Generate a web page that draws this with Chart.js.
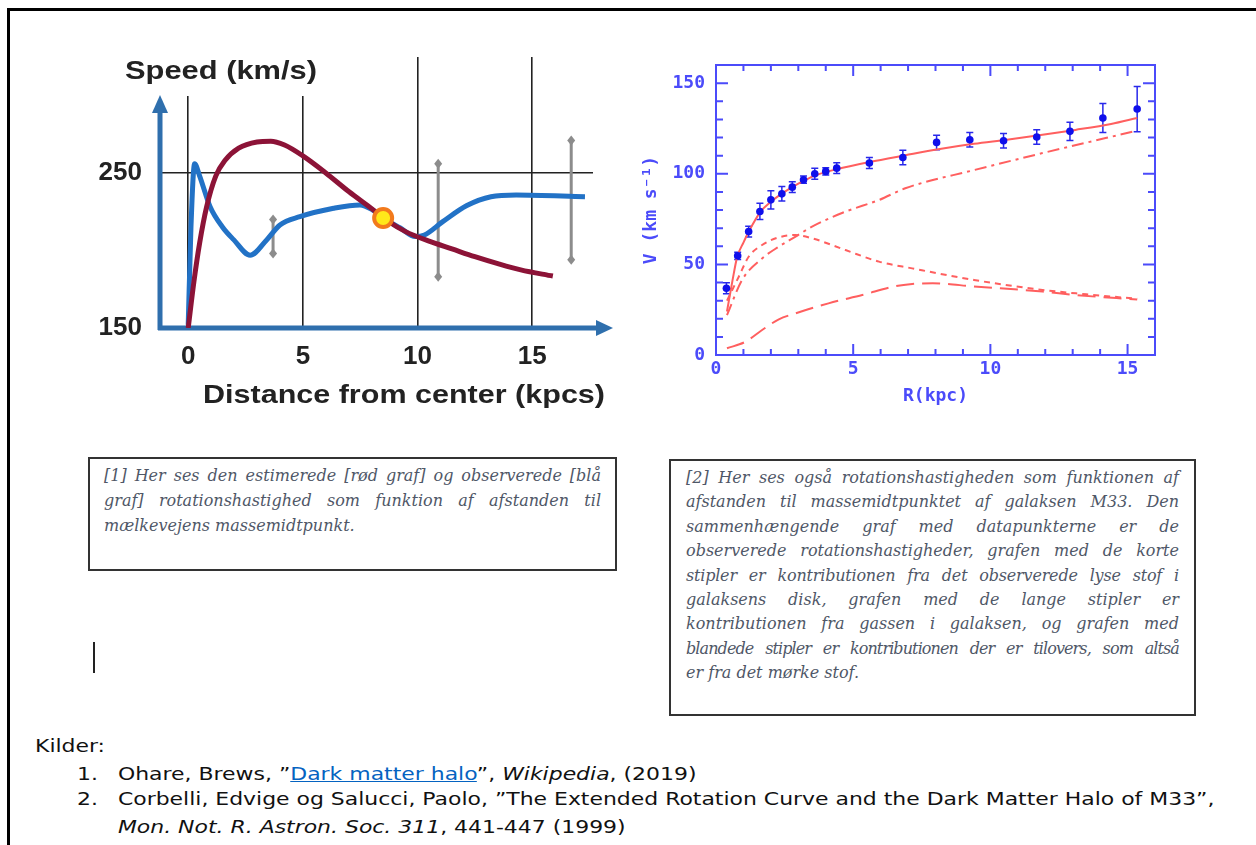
<!DOCTYPE html>
<html>
<head>
<meta charset="utf-8">
<script src="https://cdn.jsdelivr.net/npm/chart.js@4.4.0/dist/chart.umd.min.js"></script>
<style>
    html, body { margin: 0; padding: 0; background: #fff; }
    body { width: 1256px; height: 845px; position: relative; overflow: hidden; }
    #frame-top { position: absolute; left: 7px; top: 8px; width: 1249px; height: 3px; background: #000; }
    #frame-left { position: absolute; left: 7px; top: 8px; width: 3px; height: 837px; background: #000; }
    #chart1 { position: absolute; left: 80px; top: 40px; width: 545px; height: 380px; }
    #chart2 { position: absolute; left: 640px; top: 50px; width: 540px; height: 370px; }
    .caption {
        position: absolute; box-sizing: border-box; border: 2px solid #333;
        font-family: "DejaVu Serif", serif; font-style: italic; font-size: 16px;
        color: #4f5767;
    }
    #cap1 { left: 88px; top: 457px; width: 529px; height: 114px; padding: 4px 14px 0 14px; line-height: 25px; }
    #cap2 { left: 669px; top: 459px; width: 527px; height: 257px; padding: 5px 15px 0 15px; line-height: 24.4px; }
    .caption .ln { text-align: justify; text-align-last: justify; }
    .caption .ln.last { text-align-last: left; }
    #cursor { position: absolute; left: 93px; top: 642px; width: 2px; height: 31px; background: #222; }
    #sources {
        position: absolute; left: 35px; top: 733px; width: 960px; height: 110px;
        font-family: "DejaVu Sans", sans-serif; font-size: 17px; color: #111;
        transform: scaleX(1.29); transform-origin: 0 0;
    }
    #sources .row { position: absolute; left: 0; white-space: nowrap; }
    #sources .num { position: absolute; left: 32.6px; }
    #sources .txt { position: absolute; left: 64.3px; }
    #sources a { color: #0563c1; text-decoration: underline; }
</style>
</head>
<body>
<div id="frame-top"></div>
<div id="frame-left"></div>

<canvas id="chart1" width="545" height="380"></canvas>
<canvas id="chart2" width="540" height="370"></canvas>

<div class="caption" id="cap1">
    <div class="ln">[1] Her ses den estimerede [rød graf] og observerede [blå</div>
    <div class="ln">graf] rotationshastighed som funktion af afstanden til</div>
    <div class="ln last">mælkevejens massemidtpunkt.</div>
</div>

<div class="caption" id="cap2">
    <div class="ln">[2] Her ses også rotationshastigheden som funktionen af</div>
    <div class="ln">afstanden til massemidtpunktet af galaksen M33. Den</div>
    <div class="ln">sammenhængende graf med datapunkterne er de</div>
    <div class="ln">observerede rotationshastigheder, grafen med de korte</div>
    <div class="ln" style="letter-spacing:-0.2px">stipler er kontributionen fra det observerede lyse stof i</div>
    <div class="ln">galaksens disk, grafen med de lange stipler er</div>
    <div class="ln">kontributionen fra gassen i galaksen, og grafen med</div>
    <div class="ln" style="letter-spacing:-0.9px">blandede stipler er kontributionen der er tilovers, som altså</div>
    <div class="ln last">er fra det mørke stof.</div>
</div>

<div id="cursor"></div>

<div id="sources">
    <div class="row" style="top:3px">Kilder:</div>
    <div class="row" style="top:31px"><span class="num">1.</span><span class="txt">Ohare, Brews, ”<a href="#">Dark matter halo</a>”, <i>Wikipedia</i>, (2019)</span></div>
    <div class="row" style="top:56px"><span class="num">2.</span><span class="txt">Corbelli, Edvige og Salucci, Paolo, ”The Extended Rotation Curve and the Dark Matter Halo of M33”,</span></div>
    <div class="row" style="top:84px"><span class="txt"><i>Mon. Not. R. Astron. Soc. 311</i>, 441-447 (1999)</span></div>
</div>

<script>
// ---- chart 1: Milky Way, estimated vs observed (kpc, km/s)
var distTicks = [0, 5, 10, 15];
var speedTicks = [150, 250];
var observedR = [0, 0.12, 0.28, 0.5, 0.96, 1.5, 1.98, 2.7, 3.43, 4.0, 4.87, 6.34, 7.49, 8.0, 8.5, 9.25, 9.9, 10.3, 11.1, 12.15, 13.2, 14.3, 17.3];
var observedV = [152, 215, 256, 248, 228, 215, 207, 197, 207, 216.5, 221.8, 227.2, 229.4, 226.5, 221, 214.5, 209, 210, 218.6, 229, 234.7, 235.8, 234.7];
var estimatedR = [0, 0.25, 0.5, 0.8, 1.2, 1.6, 2.2, 3.0, 3.6, 4.2, 5.0, 6.0, 7.0, 8.0, 8.7, 9.5, 10.5, 11.5, 12.5, 13.5, 14.5, 15.9];
var estimatedV = [150, 180, 205, 228, 248, 258, 266, 270, 270.5, 268, 261, 250, 238, 227, 219, 212, 206, 201, 196, 191.5, 187.5, 183.5];
var sunR = [8.5];
var sunV = [221];
var rangeR = [3.7, 10.9, 16.7];
var rangeLow = [198, 183, 194];
var rangeHigh = [220, 256, 271];

// ---- chart 2: M33 (Corbelli & Salucci)
var rTicks = [0, 5, 10, 15];
var vTicks = [0, 50, 100, 150];
var rMinor = [1, 2, 3, 4, 6, 7, 8, 9, 11, 12, 13, 14];
var vMinor = [10, 20, 30, 40, 60, 70, 80, 90, 110, 120, 130, 140];
var m33R = [0.38, 0.79, 1.19, 1.6, 2.0, 2.4, 2.78, 3.19, 3.6, 4.0, 4.4, 5.59, 6.81, 8.04, 9.25, 10.48, 11.69, 12.9, 14.1, 15.35];
var m33V = [36.8, 54.7, 68.1, 79.2, 85.6, 88.9, 92.6, 96.7, 100, 101.3, 103.1, 105.9, 109, 117.3, 118.8, 118.2, 120.3, 123.4, 130.8, 135.7];
var m33Err = [3, 2, 3, 4.5, 5, 4, 3, 2, 3, 2, 3, 3, 4, 4, 4, 4, 4, 5, 8, 12.5];
var fitR = [0.4, 0.6, 0.77, 1.0, 1.19, 1.62, 2.0, 2.4, 3.0, 3.6, 4.4, 5.6, 6.9, 8.1, 9.4, 10.6, 11.9, 13.1, 14.4, 15.35];
var fitV = [24, 41, 54, 62, 68, 79, 84.5, 89, 94.5, 99, 102.5, 106.5, 110.2, 113.5, 116.5, 118.8, 121.5, 124.2, 127.5, 130.8];
var diskR = [0.4, 0.83, 1.19, 1.68, 2.29, 2.9, 3.5, 4.72, 5.94, 7.15, 9.4, 11.9, 13.5, 15.35];
var diskV = [30, 43.2, 54.2, 60.7, 64.9, 66.2, 64.4, 57.9, 51.5, 47.8, 41.4, 35.9, 33.5, 31];
var gasR = [0.4, 1.07, 1.68, 2.29, 2.9, 4.1, 5.33, 6.55, 7.15, 7.9, 9.4, 11.9, 13.1, 15.35];
var gasV = [3.7, 7.3, 13.8, 19.7, 23, 28.5, 33.1, 38, 39.2, 39.6, 37.8, 35, 33.1, 30.6];
var haloR = [0.4, 0.95, 1.68, 2.29, 2.9, 3.5, 4.72, 5.94, 6.9, 9.4, 11.9, 15.35];
var haloV = [22, 41.4, 53.3, 59.8, 65.3, 70.8, 79.1, 85.5, 92, 102, 111.4, 123.8];

function pts(xs, ys) {
    return xs.map(function (x, i) { return { x: x, y: ys[i] }; });
}

function stretchText(c, text, x, y, width) {
    var w = c.measureText(text).width;
    c.save();
    c.translate(x, y);
    c.scale(width / w, 1);
    c.fillText(text, 0, 0);
    c.restore();
}

// keep the axes from reserving room for half-labels at the ends
function noEdgePadding(s) {
    s.paddingTop = 0; s.paddingBottom = 0; s.paddingLeft = 0; s.paddingRight = 0;
}

var arrowAxes = {
    id: 'arrowAxes',
    beforeDatasetsDraw: function (chart) {
        var c = chart.ctx, a = chart.chartArea;
        var xs = chart.scales.x, ys = chart.scales.y;
        c.save();
        // title sits over the top of the first two grid lines
        c.fillStyle = '#fff';
        c.fillRect(a.left - 40, a.top - 1, 210, 40);
        c.fillStyle = '#222';
        c.font = 'bold 26px "Liberation Sans"';
        c.textBaseline = 'middle';
        stretchText(c, 'Speed (km/s)', a.left - 35, a.top + 15, 192);
        stretchText(c, 'Distance from center (kpcs)', a.left + 43, a.bottom + 68, 402);

        // grey ranges with diamond ends
        c.strokeStyle = c.fillStyle = '#8c8c8c';
        c.lineWidth = 3;
        rangeR.forEach(function (r, i) {
            var px = xs.getPixelForValue(r);
            var y1 = ys.getPixelForValue(rangeLow[i]), y2 = ys.getPixelForValue(rangeHigh[i]);
            c.beginPath(); c.moveTo(px, y1); c.lineTo(px, y2); c.stroke();
            [y1, y2].forEach(function (py) {
                c.beginPath();
                c.moveTo(px, py - 5); c.lineTo(px + 4, py); c.lineTo(px, py + 5); c.lineTo(px - 4, py);
                c.closePath(); c.fill();
            });
        });

        // arrow axes
        c.strokeStyle = c.fillStyle = '#2f6fad';
        c.lineWidth = 5;
        c.beginPath(); c.moveTo(a.left, a.bottom + 2); c.lineTo(a.left, a.top + 52); c.stroke();
        c.beginPath(); c.moveTo(a.left, a.top + 38); c.lineTo(a.left + 8, a.top + 56); c.lineTo(a.left - 8, a.top + 56); c.closePath(); c.fill();
        c.beginPath(); c.moveTo(a.left - 2, a.bottom); c.lineTo(a.right + 6, a.bottom); c.stroke();
        c.beginPath(); c.moveTo(a.right + 20, a.bottom); c.lineTo(a.right + 3, a.bottom - 8); c.lineTo(a.right + 3, a.bottom + 8); c.closePath(); c.fill();
        c.restore();
    }
};

var pgBlue = 'rgb(75, 75, 250)';

var boxTicks = {
    id: 'boxTicks',
    beforeDatasetsDraw: function (chart) {
        var c = chart.ctx, a = chart.chartArea;
        var xs = chart.scales.x, ys = chart.scales.y;
        c.save();
        c.strokeStyle = pgBlue;
        c.lineWidth = 2;
        c.strokeRect(a.left, a.top, a.right - a.left, a.bottom - a.top);
        c.beginPath();
        function xt(v, len) {
            var px = xs.getPixelForValue(v);
            c.moveTo(px, a.bottom); c.lineTo(px, a.bottom - len);
            c.moveTo(px, a.top); c.lineTo(px, a.top + len);
        }
        function yt(v, len) {
            var py = ys.getPixelForValue(v);
            c.moveTo(a.left, py); c.lineTo(a.left + len, py);
            c.moveTo(a.right, py); c.lineTo(a.right - len, py);
        }
        rTicks.forEach(function (v) { xt(v, 11); });
        rMinor.forEach(function (v) { xt(v, 6); });
        vTicks.forEach(function (v) { yt(v, 12); });
        vMinor.forEach(function (v) { yt(v, 7); });
        c.stroke();

        // error bars
        c.strokeStyle = 'rgb(40, 40, 235)';
        c.lineWidth = 1.5;
        c.beginPath();
        m33R.forEach(function (r, i) {
            var px = xs.getPixelForValue(r);
            var y1 = ys.getPixelForValue(m33V[i] - m33Err[i]), y2 = ys.getPixelForValue(m33V[i] + m33Err[i]);
            c.moveTo(px, y1); c.lineTo(px, y2);
            c.moveTo(px - 3.5, y1); c.lineTo(px + 3.5, y1);
            c.moveTo(px - 3.5, y2); c.lineTo(px + 3.5, y2);
        });
        c.stroke();
        c.restore();
    }
};

document.addEventListener('DOMContentLoaded', function () {
    Chart.defaults.animation = false;

    // Milky Way rotation curve
    var ctx1 = document.getElementById('chart1').getContext('2d');
    new Chart(ctx1, {
        type: 'line',
        data: {
            datasets: [{
                label: 'Sun',
                type: 'scatter',
                data: pts(sunR, sunV),
                pointRadius: 9,
                backgroundColor: '#ffe81a',
                borderColor: '#f27a1c',
                borderWidth: 4
            }, {
                label: 'Estimated',
                data: pts(estimatedR, estimatedV),
                borderColor: '#8c1337',
                borderWidth: 5,
                pointRadius: 0,
                cubicInterpolationMode: 'monotone'
            }, {
                label: 'Observed',
                data: pts(observedR, observedV),
                borderColor: '#2272c6',
                borderWidth: 5,
                pointRadius: 0,
                cubicInterpolationMode: 'monotone'
            }]
        },
        options: {
            responsive: false,
            layout: { padding: { top: 17, right: 32, left: 0, bottom: 0 } },
            plugins: { legend: { display: false }, tooltip: { enabled: false } },
            scales: {
                x: {
                    type: 'linear',
                    min: -1.23,
                    max: 17.65,
                    afterBuildTicks: function (s) { s.ticks = distTicks.map(function (v) { return { value: v }; }); },
                    afterFit: function (s) { s.height = 92; noEdgePadding(s); },
                    border: { display: false },
                    grid: { color: '#222', lineWidth: 1.6, drawTicks: false },
                    ticks: { padding: 13, color: '#222', font: { family: 'Liberation Sans', size: 26, weight: 'bold' } }
                },
                y: {
                    min: 150,
                    max: 324.8,
                    afterBuildTicks: function (s) { s.ticks = speedTicks.map(function (v) { return { value: v }; }); },
                    afterFit: function (s) { s.width = 80; noEdgePadding(s); },
                    border: { display: false },
                    grid: {
                        drawTicks: false,
                        lineWidth: 1.6,
                        color: function (c) { return c.tick && c.tick.value === 250 ? '#222' : 'rgba(0,0,0,0)'; }
                    },
                    ticks: { padding: 18, color: '#222', font: { family: 'Liberation Sans', size: 26, weight: 'bold' } }
                }
            }
        },
        plugins: [arrowAxes]
    });

    // M33 rotation curve
    var ctx2 = document.getElementById('chart2').getContext('2d');
    var tickFont = { family: 'DejaVu Sans Mono', size: 18, weight: 'bold' };
    new Chart(ctx2, {
        type: 'line',
        data: {
            datasets: [{
                label: 'Observed',
                type: 'scatter',
                data: pts(m33R, m33V),
                pointRadius: 3.8,
                backgroundColor: 'rgb(15, 15, 235)',
                borderWidth: 0
            }, {
                label: 'Fit',
                data: pts(fitR, fitV),
                borderColor: 'rgb(255, 95, 95)',
                borderWidth: 2,
                pointRadius: 0,
                cubicInterpolationMode: 'monotone'
            }, {
                label: 'Disk',
                data: pts(diskR, diskV),
                borderColor: 'rgb(255, 95, 95)',
                borderWidth: 2,
                borderDash: [6, 5],
                pointRadius: 0,
                cubicInterpolationMode: 'monotone'
            }, {
                label: 'Gas',
                data: pts(gasR, gasV),
                borderColor: 'rgb(255, 95, 95)',
                borderWidth: 2,
                borderDash: [18, 8],
                pointRadius: 0,
                cubicInterpolationMode: 'monotone'
            }, {
                label: 'Halo',
                data: pts(haloR, haloV),
                borderColor: 'rgb(255, 95, 95)',
                borderWidth: 2,
                borderDash: [12, 5, 3, 5],
                pointRadius: 0,
                cubicInterpolationMode: 'monotone'
            }]
        },
        options: {
            responsive: false,
            layout: { padding: { top: 15, right: 25, left: 0, bottom: 0 } },
            plugins: { legend: { display: false }, tooltip: { enabled: false } },
            scales: {
                x: {
                    type: 'linear',
                    min: 0,
                    max: 16,
                    afterBuildTicks: function (s) { s.ticks = rTicks.map(function (v) { return { value: v }; }); },
                    afterFit: function (s) { s.height = 65; noEdgePadding(s); },
                    border: { display: false },
                    grid: { display: false, drawTicks: false },
                    ticks: { padding: 4, color: pgBlue, font: tickFont },
                    title: { display: true, text: 'R(kpc)', color: pgBlue, font: tickFont, padding: { top: 0, bottom: 13 } }
                },
                y: {
                    min: 0,
                    max: 160,
                    afterBuildTicks: function (s) { s.ticks = vTicks.map(function (v) { return { value: v }; }); },
                    afterFit: function (s) { s.width = 76; noEdgePadding(s); },
                    border: { display: false },
                    grid: { display: false, drawTicks: false },
                    ticks: { padding: 11, color: pgBlue, font: tickFont },
                    title: { display: true, text: 'V (km s⁻¹)', color: pgBlue, font: tickFont, padding: { top: 1, bottom: 0 } }
                }
            }
        },
        plugins: [boxTicks]
    });
});
</script>
</body>
</html>
